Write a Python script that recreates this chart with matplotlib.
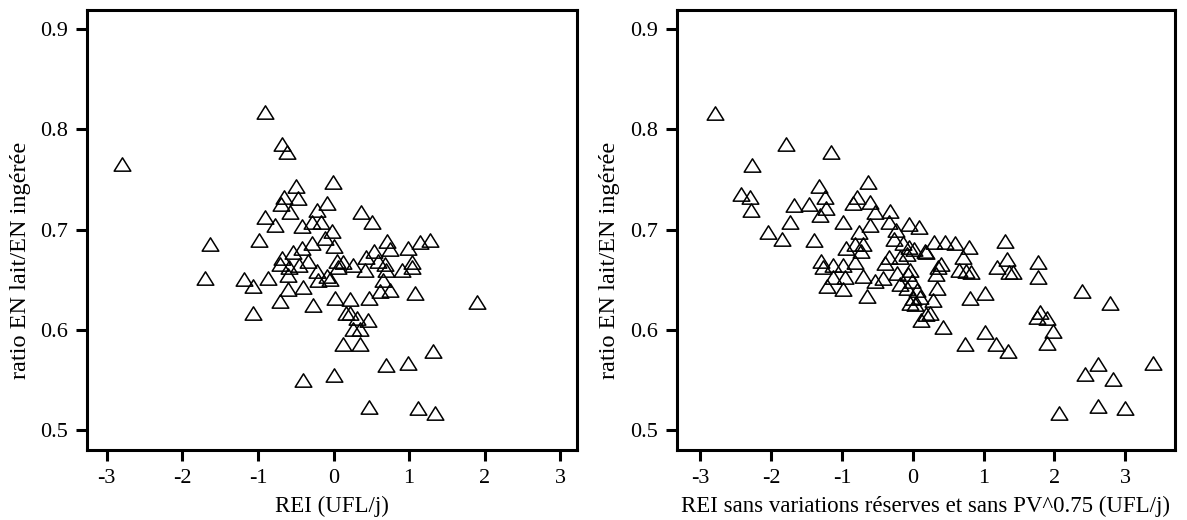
import matplotlib
matplotlib.use('Agg')
import matplotlib.pyplot as plt
from matplotlib.path import Path

# -------------------------------
# Data
# -------------------------------

# left panel: REI (UFL/j) vs ratio
rei = [-2.80, -1.70, -1.64, -0.90, -0.68, -0.62, -0.50, -0.01, -0.65, -0.47,
       -0.70, -0.58, -0.09, -0.22, -0.91, -0.78, -0.42, -0.28, -0.16, -0.02,
       -0.99, -0.11, 0.01, -0.28, -0.42, -0.53, -0.68, -0.71, -0.59, -0.45,
       -0.34, -0.22, -0.08, 0.04, 0.06, -1.19, -1.06, -0.86, -0.60, -0.60,
       -0.40, -0.21, -0.05, -0.71, -0.27, 0.02, -1.06, 0.17, 0.36, 0.51,
       0.71, 0.75, 0.98, 1.14, 1.28, 0.53, 0.43, 0.59, 0.68, 0.70,
       0.26, 0.13, 0.42, 1.04, 1.04, 0.90, 0.66, 0.62, 0.75, 0.22,
       0.47, 1.08, 0.22, 0.31, 0.46, 0.26, 0.35, 0.12, 0.35, 1.31,
       0.70, 0.98, 0.00, -0.40, 0.47, 1.12, 1.34, 1.90]
ratio_left = [0.765, 0.652, 0.686, 0.817, 0.785, 0.777, 0.743, 0.747, 0.732, 0.731,
              0.725, 0.718, 0.726, 0.720, 0.713, 0.705, 0.704, 0.708, 0.708, 0.699,
              0.690, 0.692, 0.684, 0.687, 0.682, 0.678, 0.672, 0.666, 0.663, 0.665,
              0.669, 0.659, 0.654, 0.669, 0.663, 0.651, 0.644, 0.652, 0.655, 0.641,
              0.643, 0.650, 0.651, 0.629, 0.625, 0.632, 0.617, 0.617, 0.718, 0.708,
              0.689, 0.681, 0.682, 0.688, 0.690, 0.679, 0.673, 0.669, 0.666, 0.660,
              0.665, 0.668, 0.660, 0.668, 0.663, 0.660, 0.650, 0.639, 0.640, 0.631,
              0.632, 0.637, 0.617, 0.612, 0.610, 0.601, 0.601, 0.586, 0.586, 0.579,
              0.565, 0.567, 0.555, 0.550, 0.523, 0.522, 0.517, 0.628]

# right panel: REI without reserve variations and PV^0.75
rei_adj = [-2.79, -1.79, -1.15, -2.27, -1.33, -0.63, -2.43, -2.30, -2.29, -1.68,
           -1.47, -1.24, -1.22, -1.31, -0.79, -0.84, -0.60, -0.53, -0.32, -1.73,
           -2.05, -1.84, -1.39, -0.98, -0.61, -0.34, -0.06, 0.09, -0.76, -0.81,
           -0.70, -0.73, -0.24, -0.27, -0.14, -0.05, 0.02, 0.17, -0.08, -0.18,
           -0.34, -0.39, -0.94, -1.29, -1.27, -1.12, -0.98, -0.81, -0.70, -0.53,
           -0.42, -1.12, -0.96, -1.21, -0.98, -0.65, -0.23, -0.07, -0.04, -0.01,
           -0.18, -0.08, 0.06, 0.10, -0.04, 0.03, 0.19, 0.12, 0.30, 0.46,
           0.60, 0.79, 0.19, 1.30, 0.71, 0.40, 0.36, 0.33, 0.65, 0.75,
           0.82, 1.33, 1.19, 1.36, 1.42, 1.77, 1.77, 0.34, 0.28, 0.24,
           0.81, 1.02, 2.39, 2.78, 0.43, 0.73, 1.02, 1.18, 1.34, 1.80,
           1.75, 1.89, 1.98, 1.89, 2.62, 2.43, 2.82, 3.39, 2.06, 2.61,
           3.00, 0.00]
ratio_right = [0.816, 0.785, 0.777, 0.764, 0.743, 0.747, 0.735, 0.732, 0.720, 0.724,
               0.725, 0.732, 0.722, 0.715, 0.732, 0.726, 0.727, 0.718, 0.719, 0.708,
               0.698, 0.691, 0.690, 0.708, 0.705, 0.708, 0.706, 0.703, 0.698, 0.686,
               0.686, 0.679, 0.700, 0.691, 0.687, 0.683, 0.681, 0.679, 0.676, 0.673,
               0.673, 0.667, 0.682, 0.669, 0.663, 0.665, 0.665, 0.668, 0.654, 0.649,
               0.652, 0.653, 0.653, 0.644, 0.641, 0.634, 0.657, 0.656, 0.660, 0.649,
               0.646, 0.642, 0.640, 0.633, 0.627, 0.626, 0.616, 0.610, 0.688, 0.688,
               0.687, 0.683, 0.678, 0.689, 0.673, 0.666, 0.663, 0.656, 0.660, 0.659,
               0.658, 0.671, 0.663, 0.658, 0.658, 0.668, 0.653, 0.642, 0.630, 0.617,
               0.632, 0.637, 0.639, 0.627, 0.603, 0.586, 0.598, 0.586, 0.579, 0.618,
               0.613, 0.612, 0.599, 0.587, 0.566, 0.556, 0.551, 0.567, 0.517, 0.524,
               0.522, 0.632]

x_ticks = [-3, -2, -1, 0, 1, 2, 3]
y_ticks = [0.5, 0.6, 0.7, 0.8, 0.9]

# -------------------------------
# Plot
# -------------------------------

plt.rcParams['font.family'] = ['Liberation Serif', 'DejaVu Serif']
plt.rcParams['axes.unicode_minus'] = False

# slightly flattened open triangle
tri = Path([(-1, -0.8), (1, -0.8), (0, 0.8), (-1, -0.8)],
           [Path.MOVETO, Path.LINETO, Path.LINETO, Path.CLOSEPOLY])

fig = plt.figure(figsize=(11.87, 5.2), dpi=100)
ax1 = fig.add_axes([0.0733, 0.1346, 0.4128, 0.846])
ax2 = fig.add_axes([0.5703, 0.1346, 0.4195, 0.846])

panels = [
    (ax1, rei, ratio_left, 'REI (UFL/j)', (-3.26, 3.22)),
    (ax2, rei_adj, ratio_right,
     'REI sans variations réserves et sans PV^0.75 (UFL/j)', (-3.33, 3.70)),
]

for ax, xs, ys, xlabel, xlim in panels:
    ax.plot(xs, ys, linestyle='none', marker=tri, markersize=12,
            markerfacecolor='none', markeredgecolor='black', markeredgewidth=1.1)
    ax.set_xlim(*xlim)
    ax.set_ylim(0.48, 0.919)
    ax.set_xticks(x_ticks)
    ax.set_xticklabels([str(t) for t in x_ticks])
    ax.set_yticks(y_ticks)
    ax.set_yticklabels([f'{t:.1f}' for t in y_ticks])
    for sp in ax.spines.values():
        sp.set_linewidth(2.2)
    ax.tick_params(axis='both', direction='out', length=8, width=2.2,
                   labelsize=16, pad=6)
    ax.set_xlabel(xlabel, fontsize=16.5, labelpad=5)
    ax.set_ylabel('ratio EN lait/EN ingérée', fontsize=17.5)
    ax.yaxis.set_label_coords(-0.115, 0.43)

fig.savefig('out.png', dpi=100)
plt.close(fig)
